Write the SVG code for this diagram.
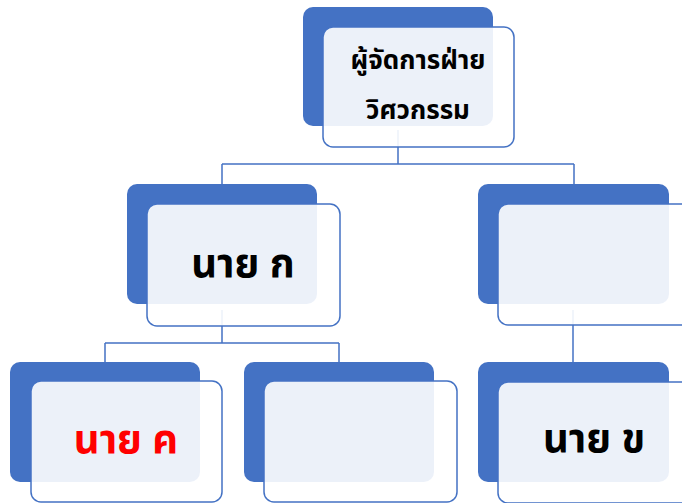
<svg xmlns="http://www.w3.org/2000/svg" width="682" height="503" viewBox="0 0 682 503">
<style>
.back{fill:#4472C4;}
.front{fill:#FFFFFF;fill-opacity:0.9;stroke:#4472C4;stroke-width:1.5;}
.con{stroke:#4472C4;stroke-width:1.5;fill:none;}
.t{font-family:"Noto Sans","Noto Sans Thai","Liberation Sans",sans-serif;font-weight:bold;text-anchor:middle;fill:#000;}
</style>
<rect width="682" height="503" fill="#FFFFFF"/>
<g id="connectors">
<path class="con" d="M398,130 V164 M222,164 H574 M222,164 V184 M574,164 V184"/>
<path class="con" d="M222,310 V343 M105,343 H339 M105,343 V362 M339,343 V362"/>
<path class="con" d="M573,310 V362"/>
</g>
<g id="n-top">
<rect class="back" x="303" y="7" width="190" height="119" rx="10"/>
<rect class="front" x="323" y="27" width="191" height="120" rx="10"/>
<text class="t" x="418" y="69" font-size="26">ผู้จัดการฝ่าย</text>
<text class="t" x="418" y="119" font-size="26">วิศวกรรม</text>
</g>
<g id="n-a">
<rect class="back" x="127" y="184" width="190" height="120" rx="10"/>
<rect class="front" x="147" y="204" width="193" height="122" rx="10"/>
<text class="t" x="243" y="277" font-size="40">นาย ก</text>
</g>
<g id="n-right">
<rect class="back" x="478" y="184" width="191" height="120" rx="10"/>
<rect class="front" x="498" y="204" width="193" height="121" rx="10"/>
</g>
<g id="n-c">
<rect class="back" x="10" y="362" width="190" height="120" rx="10"/>
<rect class="front" x="31" y="381" width="191" height="121" rx="10"/>
<text class="t" x="126" y="453" font-size="40" style="fill:#FF0000">นาย ค</text>
</g>
<g id="n-blank">
<rect class="back" x="244" y="362" width="190" height="120" rx="10"/>
<rect class="front" x="264" y="381" width="193" height="121" rx="10"/>
</g>
<g id="n-b">
<rect class="back" x="478" y="362" width="191" height="120" rx="10"/>
<rect class="front" x="498" y="382" width="193" height="121" rx="10"/>
<text class="t" x="594" y="452" font-size="40">นาย ข</text>
</g>
</svg>
